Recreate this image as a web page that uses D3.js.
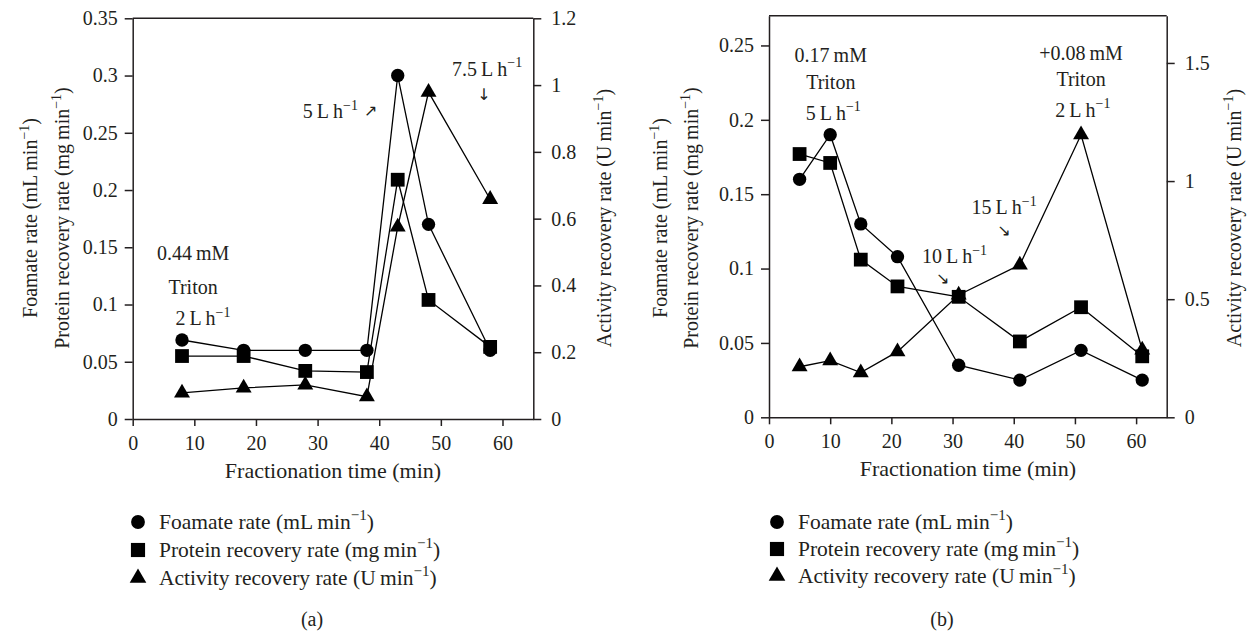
<!DOCTYPE html>
<html>
<head>
<meta charset="utf-8">
<script src="https://cdn.jsdelivr.net/npm/d3@7"></script>
<style>
  body { margin: 0; background: #fff; }
  svg text { font-family: "Liberation Serif", "DejaVu Serif", serif; fill: #231f20; }
  .arrow { font-family: "DejaVu Sans", sans-serif !important; }
</style>
</head>
<body>
<svg id="chart" width="1249" height="631"></svg>
<script>
// panel (a)
var timeA = [8, 18, 28, 38, 43, 48, 58];
var foamA = [0.069, 0.060, 0.060, 0.060, 0.300, 0.170, 0.060];
var proteinA = [0.055, 0.055, 0.042, 0.041, 0.209, 0.104, 0.063];
var activityA = [0.078, 0.093, 0.102, 0.067, 0.575, 0.979, 0.658];

// panel (b)
var timeB = [5, 10, 15, 21, 31, 41, 51, 61];
var foamB = [0.160, 0.190, 0.130, 0.108, 0.035, 0.025, 0.045, 0.025];
var proteinB = [0.177, 0.171, 0.106, 0.088, 0.081, 0.051, 0.074, 0.041];
var activityB = [0.214, 0.240, 0.189, 0.278, 0.518, 0.645, 1.196, 0.285];

var ticksX = [0, 10, 20, 30, 40, 50, 60];
var ticksAL = [0, 0.05, 0.1, 0.15, 0.2, 0.25, 0.3, 0.35];
var ticksAR = [0, 0.2, 0.4, 0.6, 0.8, 1, 1.2];
var ticksBL = [0, 0.05, 0.1, 0.15, 0.2, 0.25];
var ticksBR = [0, 0.5, 1, 1.5];

var legendNames = [
  [['Foamate rate (mL\u2009min'], ['\u22121', true], [')']],
  [['Protein recovery rate (mg\u2009min'], ['\u22121', true], [')']],
  [['Activity recovery rate (U\u2009min'], ['\u22121', true], [')']]
];
var shapes = [d3.symbolCircle, d3.symbolSquare, d3.symbolTriangle];
var shapeSize = [140, 190, 110];

var svg = d3.select('#chart');
var fs = 20;

// text with superscripts: parts = [[txt, sup], ...]
function richText(sel, parts, size) {
  var t = sel;
  parts.forEach(function(p) {
    if (p[1]) {
      t.append('tspan').attr('dy', -size * 0.42).attr('font-size', size * 0.7).text(p[0]);
    } else {
      var ts = t.append('tspan').text(p[0]);
      if (t.selectAll('tspan').size() > 1) ts.attr('dy', size * 0.42);
    }
  });
  return sel;
}

function lh(n) {
  return [[n + '\u2009L\u2009h'], ['\u22121', true]];
}

function drawPanel(cfg) {
  var x = d3.scaleLinear().domain([0, 65]).range([cfg.x0, cfg.x1]);
  var yL = d3.scaleLinear().domain([0, cfg.maxL]).range([cfg.yb, cfg.yt]);
  var yR = d3.scaleLinear().domain([0, cfg.maxR]).range([cfg.yb, cfg.yt]);
  var g = svg.append('g');

  var fmt = function(d) { return String(+d.toFixed(2)); };

  var axL = g.append('g').attr('transform', 'translate(' + cfg.x0 + ',0)')
    .call(d3.axisLeft(yL).tickValues(cfg.ticksL).tickFormat(fmt).tickSize(8).tickSizeOuter(0).tickPadding(7));
  var axR = g.append('g').attr('transform', 'translate(' + cfg.x1 + ',0)')
    .call(d3.axisRight(yR).tickValues(cfg.ticksR).tickFormat(fmt).tickSize(8).tickSizeOuter(0).tickPadding(10));
  var axB = g.append('g').attr('transform', 'translate(0,' + cfg.yb + ')')
    .call(d3.axisBottom(x).tickValues(ticksX).tickSize(7).tickSizeOuter(0).tickPadding(10));
  [axL, axR, axB].forEach(function(a) {
    a.selectAll('path, line').attr('stroke', '#231f20').attr('stroke-width', 1.5);
    a.selectAll('text').attr('font-size', fs).attr('font-family', '"Liberation Serif", serif').attr('fill', '#231f20');
  });
  g.append('line')
    .attr('x1', cfg.x0).attr('x2', cfg.x1)
    .attr('y1', cfg.yt).attr('y2', cfg.yt)
    .attr('stroke', '#231f20').attr('stroke-width', 1.5);

  // series
  var series = [
    {vals: cfg.foam, y: yL},
    {vals: cfg.protein, y: yL},
    {vals: cfg.activity, y: yR}
  ];
  series.forEach(function(s) {
    var pts = cfg.time.map(function(t, i) { return [t, s.vals[i]]; });
    g.append('path')
      .datum(pts)
      .attr('fill', 'none')
      .attr('stroke', '#000')
      .attr('stroke-width', 1.3)
      .attr('d', d3.line().x(function(d) { return x(d[0]); }).y(function(d) { return s.y(d[1]); }));
  });
  series.forEach(function(s, k) {
    g.selectAll('.m' + k)
      .data(cfg.time.map(function(t, i) { return [t, s.vals[i]]; }))
      .join('path')
      .attr('class', 'm' + k)
      .attr('transform', function(d) { return 'translate(' + x(d[0]) + ',' + s.y(d[1]) + ')'; })
      .attr('d', d3.symbol().type(shapes[k]).size(shapeSize[k]))
      .attr('fill', '#000');
  });

  // axis titles
  g.append('text')
    .attr('x', (cfg.x0 + cfg.x1) / 2).attr('y', cfg.yb + 59)
    .attr('text-anchor', 'middle').attr('font-size', 22)
    .text('Fractionation time (min)');

  var midY = 218;
  richText(g.append('text')
    .attr('transform', 'translate(' + cfg.labL1 + ',' + midY + ') rotate(-90)')
    .attr('text-anchor', 'middle').attr('font-size', fs),
    [['Foamate rate (mL\u2009min'], ['\u22121', true], [')']], fs);
  richText(g.append('text')
    .attr('transform', 'translate(' + cfg.labL2 + ',' + midY + ') rotate(-90)')
    .attr('text-anchor', 'middle').attr('font-size', fs),
    [['Protein recovery rate (mg\u2009min'], ['\u22121', true], [')']], fs);
  richText(g.append('text')
    .attr('transform', 'translate(' + cfg.labR + ',' + midY + ') rotate(-90)')
    .attr('text-anchor', 'middle').attr('font-size', fs),
    [['Activity recovery rate (U\u2009min'], ['\u22121', true], [')']], fs);

  // annotations (positioned in data units)
  cfg.notes.forEach(function(n) {
    var t = g.append('text')
      .attr('x', x(n.x)).attr('y', yL(n.y))
      .attr('text-anchor', n.anchor || 'middle')
      .attr('font-size', fs);
    if (n.arrow) {
      t.attr('class', 'arrow').attr('font-size', 16).text(n.text);
    } else {
      richText(t, n.parts, fs);
    }
  });

  // legend
  var lg = g.append('g');
  var lfs = 21.5;
  legendNames.forEach(function(name, k) {
    var yy = cfg.legY[k];
    lg.append('path')
      .attr('transform', 'translate(' + cfg.legX + ',' + yy + ')')
      .attr('d', d3.symbol().type(shapes[k]).size(shapeSize[k] + 10))
      .attr('fill', '#000');
    richText(lg.append('text')
      .attr('x', cfg.legX + 21).attr('y', yy + 7)
      .attr('font-size', lfs), name, lfs);
  });

  g.append('text')
    .attr('x', cfg.tagX).attr('y', 626)
    .attr('text-anchor', 'middle').attr('font-size', 20)
    .text(cfg.tag);
}

drawPanel({
  x0: 132.7, x1: 533.3, yt: 18.3, yb: 419,
  maxL: 0.35, maxR: 1.2, ticksL: ticksAL, ticksR: ticksAR,
  time: timeA, foam: foamA, protein: proteinA, activity: activityA,
  labL1: 37, labL2: 69, labR: 611,
  legX: 138, legY: [522, 550, 578], tagX: 312, tag: '(a)',
  notes: [
    {x: 9.8, y: 0.139, parts: [['0.44\u2009mM']]},
    {x: 9.8, y: 0.109, parts: [['Triton']]},
    {x: 11.4, y: 0.082, parts: lh('2')},
    {x: 27.6, y: 0.263, anchor: 'start', parts: lh('5')},
    {x: 38.6, y: 0.265, arrow: true, text: '\u2197'},
    {x: 57.5, y: 0.300, parts: lh('7.5')},
    {x: 57.0, y: 0.279, arrow: true, text: '\u2193'}
  ]
});

drawPanel({
  x0: 769, x1: 1166.7, yt: 15.7, yb: 417.3,
  maxL: 0.27, maxR: 1.7, ticksL: ticksBL, ticksR: ticksBR,
  time: timeB, foam: foamB, protein: proteinB, activity: activityB,
  labL1: 667, labL2: 698, labR: 1241,
  legX: 777, legY: [522, 549, 576], tagX: 942, tag: '(b)',
  notes: [
    {x: 10.1, y: 0.239, parts: [['0.17\u2009mM']]},
    {x: 10.1, y: 0.221, parts: [['Triton']]},
    {x: 10.5, y: 0.200, parts: lh('5')},
    {x: 25.0, y: 0.1035, anchor: 'start', parts: lh('10')},
    {x: 28.4, y: 0.0895, arrow: true, text: '\u2198'},
    {x: 33.1, y: 0.1367, anchor: 'start', parts: lh('15')},
    {x: 38.4, y: 0.122, arrow: true, text: '\u2198'},
    {x: 51.0, y: 0.2402, parts: [['+0.08\u2009mM']]},
    {x: 51.0, y: 0.2227, parts: [['Triton']]},
    {x: 51.3, y: 0.2021, parts: lh('2')}
  ]
});
</script>
</body>
</html>
